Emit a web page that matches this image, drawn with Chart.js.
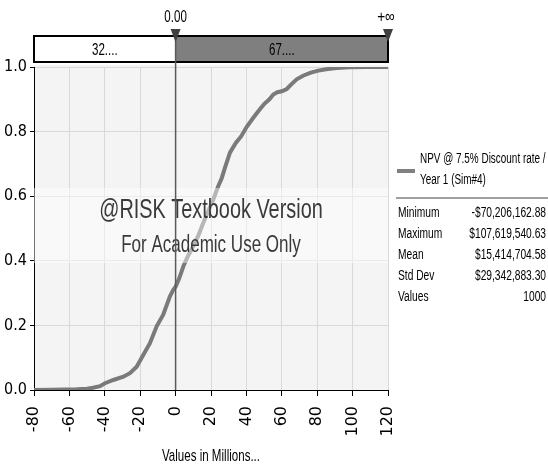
<!DOCTYPE html>
<html><head><meta charset="utf-8">
<script src="https://cdn.jsdelivr.net/npm/chart.js@4.4.1/dist/chart.umd.min.js"></script>
<style>html,body{margin:0;padding:0;background:#fff;}canvas{display:block}</style>
</head><body>
<canvas id="c" width="548" height="468"></canvas>
<script>
// ---- data (values in millions, cumulative probability) ----
const npvMillions = [-80, -70.2, -56, -50, -46.7, -42.7, -39.9, -35.2, -29.5, -25.8, -22, -18.2, -14.5, -10.7, -7, -3.2, -1.3, 0,
  2, 4.4, 7, 10, 13, 15.6, 18.5, 21.3, 24, 26, 28, 30.7, 34, 37, 40.2, 43.9, 47.7, 50, 53, 55.2, 57.5, 60, 62.8, 65.5, 68.4,
  72, 76, 80, 85, 91, 98, 107.6, 120];
const cumProb = [0, 0.001, 0.002, 0.004, 0.007, 0.012, 0.021, 0.031, 0.041, 0.052, 0.072, 0.109, 0.145, 0.197, 0.233, 0.29, 0.31, 0.32,
  0.345, 0.383, 0.415, 0.445, 0.48, 0.517, 0.555, 0.59, 0.63, 0.655, 0.69, 0.735, 0.765, 0.785, 0.815, 0.843, 0.87, 0.885, 0.9, 0.915, 0.922, 0.925, 0.932, 0.947, 0.962,
  0.973, 0.982, 0.988, 0.993, 0.997, 0.999, 1.0, 1.0];
const xRange = [-80, 120];
const xStep = 20;
const yRange = [0, 1];
const yStep = 0.2;
const deltaValues = [0, Infinity];
const deltaLabels = ['0.00', '+\u221E'];
const regionLabels = ['32....', '67....'];
const seriesName = ['NPV @ 7.5% Discount rate /', 'Year 1 (Sim#4)'];
const statNames = ['Minimum', 'Maximum', 'Mean', 'Std Dev', 'Values'];
const statValues = ['-$70,206,162.88', '$107,619,540.63', '$15,414,704.58', '$29,342,883.30', '1000'];
const watermark = ['@RISK Textbook Version', 'For Academic Use Only'];
const axisTitle = 'Values in Millions...';

const SANS = '"Liberation Sans", Arial, sans-serif';
const WIDE = '"DejaVu Sans", Verdana, sans-serif';

const points = npvMillions.map((v, i) => ({x: v, y: cumProb[i]}));

function narrowText(ctx, text, x, y, size, align, k, color) {
  ctx.save();
  ctx.font = size + 'px ' + SANS;
  ctx.textAlign = align;
  ctx.textBaseline = 'middle';
  ctx.fillStyle = color || '#000';
  ctx.translate(x, y);
  ctx.scale(k, 1);
  ctx.fillText(text, 0, 0);
  ctx.restore();
}

const decor = {
  id: 'decor',
  beforeDraw(chart) {
    const {ctx, chartArea: a} = chart;
    ctx.save();
    ctx.fillStyle = '#f4f4f4';
    ctx.fillRect(a.left, a.top - 2, a.right - a.left, a.bottom - a.top + 2);
    ctx.restore();
  },
  afterDatasetsDraw(chart) {
    const {ctx, chartArea: a, scales: {x}} = chart;
    ctx.save();
    // watermark band
    ctx.fillStyle = 'rgba(255,255,255,0.45)';
    ctx.fillRect(a.left, 188, a.right - a.left, 75);
    const cx = (a.left + a.right) / 2;
    narrowText(ctx, watermark[0], cx, 210, 28, 'center', 0.71, '#3a3a3a');
    narrowText(ctx, watermark[1], cx, 246, 23, 'center', 0.74, '#3a3a3a');

    // top delimiter bar
    const x0 = x.getPixelForValue(deltaValues[0]);
    const xr = a.right;
    const bt = 36, bb = 62;
    ctx.fillStyle = '#ffffff';
    ctx.fillRect(a.left, bt, x0 - a.left, bb - bt);
    ctx.fillStyle = '#7f7f7f';
    ctx.fillRect(x0, bt, xr - x0, bb - bt);
    ctx.strokeStyle = '#000';
    ctx.lineWidth = 2;
    ctx.strokeRect(a.left, bt, xr - a.left, bb - bt);
    narrowText(ctx, regionLabels[0], (a.left + x0) / 2, 50, 17, 'center', 0.68);
    narrowText(ctx, regionLabels[1], (x0 + xr) / 2, 50, 17, 'center', 0.68);

    // zero delimiter line
    ctx.strokeStyle = '#5a5a5a';
    ctx.lineWidth = 1.5;
    ctx.beginPath();
    ctx.moveTo(x0, bt);
    ctx.lineTo(x0, a.bottom);
    ctx.stroke();

    // triangles
    ctx.fillStyle = '#404040';
    [x0, xr].forEach(px => {
      ctx.beginPath();
      ctx.moveTo(px - 5, 29);
      ctx.lineTo(px + 5, 29);
      ctx.lineTo(px, 42);
      ctx.closePath();
      ctx.fill();
    });
    narrowText(ctx, deltaLabels[0], x0, 17, 17, 'center', 0.68);
    narrowText(ctx, deltaLabels[1], xr - 2, 17, 17, 'center', 0.8);

    // legend
    ctx.fillStyle = '#808080';
    ctx.fillRect(397, 169, 18, 4);
    narrowText(ctx, seriesName[0], 420, 159, 14, 'left', 0.71);
    narrowText(ctx, seriesName[1], 420, 180, 14, 'left', 0.71);
    ctx.strokeStyle = '#808080';
    ctx.lineWidth = 1.5;
    ctx.beginPath();
    ctx.moveTo(396, 198);
    ctx.lineTo(548, 198);
    ctx.stroke();
    statNames.forEach((n, i) => {
      narrowText(ctx, n, 398, 213 + i * 21, 14, 'left', 0.73);
      narrowText(ctx, statValues[i], 546, 213 + i * 21, 14, 'right', 0.73);
    });

    // axis title
    narrowText(ctx, axisTitle, cx, 456, 17, 'center', 0.68);
    ctx.restore();
  }
};

new Chart(document.getElementById('c'), {
  type: 'scatter',
  data: {
    datasets: [{
      label: seriesName.join(' '),
      data: points,
      showLine: true,
      borderColor: '#7a7a7a',
      borderWidth: 4,
      pointRadius: 0,
      tension: 0,
      fill: false
    }]
  },
  options: {
    responsive: false,
    devicePixelRatio: 1,
    animation: false,
    layout: {padding: {top: 67, right: 160, left: 0, bottom: 0}},
    plugins: {legend: {display: false}, tooltip: {enabled: false}},
    scales: {
      x: {
        type: 'linear',
        min: xRange[0], max: xRange[1],
        afterFit(s) { s.height = 78; },
        ticks: {
          stepSize: xStep, autoSkip: false, minRotation: 90, maxRotation: 90,
          padding: 10, color: '#000', font: {family: WIDE, size: 16}
        },
        grid: {color: '#d9d9d9', lineWidth: 1, tickLength: 6, tickColor: '#000', drawTicks: true},
        border: {display: true, color: '#000', width: 1},
        title: {display: false, text: axisTitle}
      },
      y: {
        type: 'linear',
        min: yRange[0], max: yRange[1],
        afterFit(s) { s.width = 34; },
        ticks: {
          stepSize: yStep, padding: 3, color: '#000', font: {family: WIDE, size: 16, weight: 'condensed'},
          callback: v => Number(v).toFixed(1)
        },
        grid: {color: '#d9d9d9', lineWidth: 1, tickLength: 4, tickColor: '#000'},
        border: {display: true, color: '#000', width: 1}
      }
    }
  },
  plugins: [decor]
});
</script>
</body></html>
